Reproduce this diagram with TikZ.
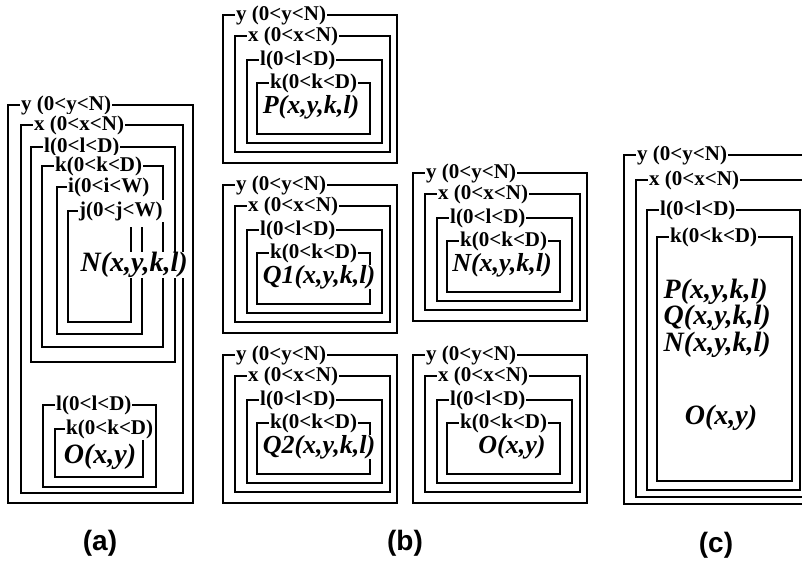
\documentclass[tikz,border=0pt]{standalone}
\usepackage{fontspec}
\setmainfont{Liberation Serif}
\newfontfamily\capsans{Liberation Sans}
\usetikzlibrary{positioning}

\begin{document}
\begin{tikzpicture}[
    x=1pt, y=-1pt,
    loopbox/.style={line width=1.6pt},
    looplabel/.style={anchor=west, fill=white, inner sep=1pt, font=\fontsize{21}{21}\selectfont\bfseries},
    kernel/.style={fill=white, inner sep=0.5pt, font=\fontsize{26}{26}\selectfont\bfseries\itshape},
    bigkernel/.style={kernel, font=\fontsize{28}{25}\selectfont\bfseries\itshape},
    panel/.style={font=\capsans\fontsize{28}{28}\selectfont\bfseries}
]
\useasboundingbox (0,0) rectangle (802,562);
\clip (0,0) rectangle (802,562);

% (a) fused loops
\draw[loopbox] (8,105) rectangle (193,503);
\node[looplabel] (ay) at (20,105) {y (0<y<N)};
\draw[loopbox] (21,125) rectangle (183,493);
\node[looplabel] (ax) at (33,125) {x (0<x<N)};
\draw[loopbox] (31,147) rectangle (175,362);
\node[looplabel] (al) at (43,147) {l(0<l<D)};
\draw[loopbox] (42,166) rectangle (163,347);
\node[looplabel] (ak) at (54,166) {k(0<k<D)};
\draw[loopbox] (67,187) -- (57,187) -- (57,334) -- (142,334) -- (142,227);
\node[looplabel] (ai) at (67,187) {i(0<i<W)};
\draw[loopbox] (78,211) -- (68,211) -- (68,322) -- (131,322) -- (131,227);
\node[looplabel] (aj) at (78,211) {j(0<j<W)};
\node[bigkernel, anchor=west] (an) at (80,265) {N(x,y,k,l)};

\draw[loopbox] (43,405) rectangle (156,487);
\node[looplabel] (al2) at (55,405) {l(0<l<D)};
\draw[loopbox] (65,429) -- (55,429) -- (55,477) -- (143,477) -- (143,440);
\node[looplabel] (ak2) at (65,429) {k(0<k<D)};
\node[bigkernel] (ao) at (100,457) {O(x,y)};

% (b) separate loop nests
\foreach \gx/\gy/\cx/\ktext/\nm in {223/15/88/{P(x,y,k,l)}/bp, 223/185/96/{Q1(x,y,k,l)}/bqa,
    223/355/96/{Q2(x,y,k,l)}/bqb, 413/173/89/{N(x,y,k,l)}/bn, 413/355/99/{O(x,y)}/bo}{
  \draw[loopbox] (\gx,\gy) rectangle (\gx+174,\gy+148);
  \node[looplabel] (\nm-y) at (\gx+12,\gy) {y (0<y<N)};
  \draw[loopbox] (\gx+12,\gy+21) rectangle (\gx+167,\gy+137);
  \node[looplabel] (\nm-x) at (\gx+24,\gy+21) {x (0<x<N)};
  \draw[loopbox] (\gx+24,\gy+45) rectangle (\gx+159,\gy+128);
  \node[looplabel] (\nm-l) at (\gx+36,\gy+45) {l(0<l<D)};
  \draw[loopbox] (\gx+34,\gy+68) rectangle (\gx+147,\gy+119);
  \node[looplabel] (\nm-k) at (\gx+46,\gy+68) {k(0<k<D)};
  \node[kernel] (\nm) at (\gx+\cx,\gy+92) {\ktext};
}

% (c) one loop nest
\draw[loopbox] (624,155) rectangle (816,504);
\node[looplabel] (cy) at (636,155) {y (0<y<N)};
\draw[loopbox] (636,180) rectangle (808,497);
\node[looplabel] (cx) at (648,180) {x (0<x<N)};
\draw[loopbox] (647,210) rectangle (800,490);
\node[looplabel] (cl) at (659,210) {l(0<l<D)};
\draw[loopbox] (657,237) rectangle (792,481);
\node[looplabel] (ck) at (669,237) {k(0<k<D)};
\node[bigkernel, fill=none, anchor=west, align=left] (cpqn) at (663,318) {P(x,y,k,l)\\Q(x,y,k,l)\\N(x,y,k,l)};
\node[bigkernel, fill=none] (co) at (721,418) {O(x,y)};

% Captions
\node[panel] (capa) at (100,543) {(a)};
\node[panel] (capb) at (405,543) {(b)};
\node[panel] (capc) at (716,545) {(c)};

\end{tikzpicture}
\end{document}
